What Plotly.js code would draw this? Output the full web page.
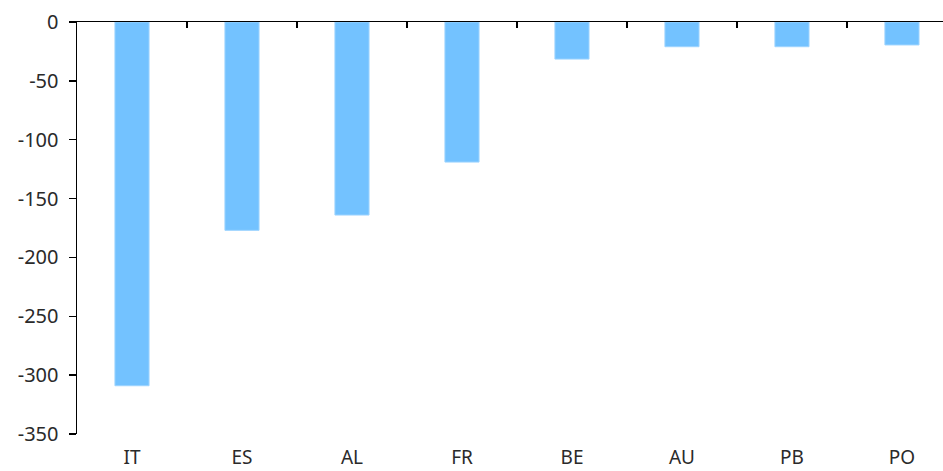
<!DOCTYPE html>
<html><head><meta charset="utf-8">
<script src="https://cdn.plot.ly/plotly-3.0.1.min.js"></script>
<style>html,body{margin:0;padding:0;background:#fff}#c{width:943px;height:471px}</style>
</head><body><div id="c"></div>
<script>
const categories = ["IT","ES","AL","FR","BE","AU","PB","PO"];
const values = [-309, -177, -164, -119, -31.5, -21, -21, -19.5];
const yTicks = [0,-50,-100,-150,-200,-250,-300,-350];

const font = {family:"Noto Sans, Open Sans, sans-serif", size:19, color:"#2a2a2a"};
const data = [
  {type:"bar", x:categories, y:values, width:0.31,
   marker:{color:"#73C2FF", line:{color:"#9ED4FF", width:1}}, hoverinfo:"x+y"},
  {type:"bar", x:categories, y:values.map(()=>null), xaxis:"x2", showlegend:false, hoverinfo:"skip"}
];
const layout = {
  width:943, height:471, showlegend:false,
  margin:{l:77, r:0, t:22, b:37},
  paper_bgcolor:"#fff", plot_bgcolor:"#fff",
  font:font,
  xaxis:{type:"category", range:[-0.5,7.373], showline:false, showgrid:false, zeroline:false,
         ticks:"", tickfont:{family:font.family,size:19,color:"#2a2a2a"}, ticklabelstandoff:10},
  xaxis2:{type:"category", overlaying:"x", side:"top", anchor:"y", range:[-0.5,7.373],
          showline:true, linecolor:"#000", linewidth:1.5, ticks:"inside", ticklen:6, tickwidth:1.5,
          tickcolor:"#000", tickson:"boundaries", showticklabels:false, showgrid:false, zeroline:false},
  yaxis:{range:[-350,0], tickvals:yTicks, ticktext:yTicks.map(String), showline:true, linecolor:"#000",
         linewidth:1.5, ticks:"outside", ticklen:7, tickwidth:1.5, tickcolor:"#000",
         showgrid:false, zeroline:false, tickfont:{family:font.family,size:20,color:"#2a2a2a"}, ticklabelstandoff:6}
};
Plotly.newPlot("c", data, layout, {displayModeBar:false, staticPlot:true});
</script></body></html>
